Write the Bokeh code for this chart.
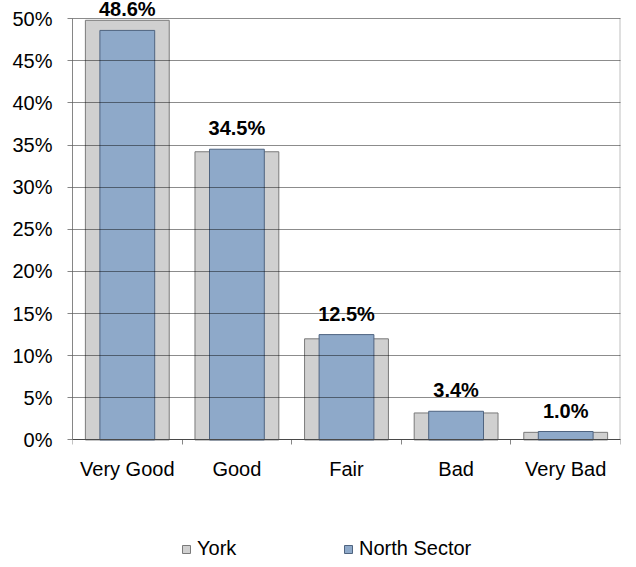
from bokeh.plotting import figure
from bokeh.models import Range1d, FixedTicker, PrintfTickFormatter, ColumnDataSource
from bokeh.embed import file_html
from bokeh.resources import INLINE
from bokeh.core.properties import value

categories = ["Very Good", "Good", "Fair", "Bad", "Very Bad"]
york = [49.8, 34.2, 12.0, 3.2, 0.9]
north_sector = [48.6, 34.5, 12.5, 3.4, 1.0]
value_labels = ["48.6%", "34.5%", "12.5%", "3.4%", "1.0%"]
y_ticks = [0, 5, 10, 15, 20, 25, 30, 35, 40, 45, 50]
series_names = ["York", "North Sector"]

FONT = "Liberation Sans"
AXIS_GREY = "#868686"

x_centers = [i + 0.5 for i in range(len(categories))]
x_bounds = list(range(len(categories) + 1))

src = ColumnDataSource(dict(x=x_centers, york=york, north=north_sector, lab=value_labels))

p = figure(width=636, height=567, output_backend="svg", toolbar_location=None,
           x_range=Range1d(0, len(categories)), y_range=Range1d(-15.14, 52.15),
           min_border_left=72, min_border_right=16, min_border_top=0, min_border_bottom=0)
p.outline_line_color = None
p.background_fill_color = "white"

p.vbar(x="x", top="york", width=0.765, source=src, fill_color="#D0D0D0",
       line_color="#7A7A7A", line_width=1, legend_label=series_names[0])
p.vbar(x="x", top="north", width=0.5, source=src, fill_color="#8EA9C9",
       line_color="#4F6480", line_width=1, legend_label=series_names[1])

p.text(x="x", y="north", text="lab", source=src, y_offset=-21,
       text_align="center", text_baseline="middle",
       text_font=value(FONT), text_font_style="bold", text_font_size="20px",
       text_color="black")

# right border of plot area
p.segment(x0=[x_bounds[-1]], x1=[x_bounds[-1]], y0=[y_ticks[0]], y1=[y_ticks[-1]],
          line_color="#BFBFBF", line_width=2)

p.xgrid.visible = False
p.ygrid.ticker = FixedTicker(ticks=y_ticks)
p.ygrid.grid_line_color = "black"
p.ygrid.grid_line_alpha = 0.45
p.ygrid.grid_line_width = 1
p.ygrid.level = "overlay"

ya = p.yaxis[0]
ya.ticker = FixedTicker(ticks=y_ticks)
ya.formatter = PrintfTickFormatter(format="%d%%")
ya.bounds = (y_ticks[0], y_ticks[-1])
ya.axis_line_color = AXIS_GREY
ya.major_tick_line_color = AXIS_GREY
ya.major_tick_out = 5
ya.major_tick_in = 0
ya.minor_tick_line_color = None
ya.major_label_standoff = 15
ya.major_label_text_font = FONT
ya.major_label_text_font_size = "20px"
ya.major_label_text_color = "black"

xa = p.xaxis[0]
xa.fixed_location = 0
xa.ticker = FixedTicker(ticks=x_centers, minor_ticks=x_bounds)
xa.major_label_overrides = {xc: c for xc, c in zip(x_centers, categories)}
xa.axis_line_color = AXIS_GREY
xa.major_tick_line_color = None
xa.major_tick_out = 0
xa.major_tick_in = 0
xa.minor_tick_line_color = AXIS_GREY
xa.minor_tick_out = 5
xa.minor_tick_in = 0
xa.major_label_standoff = 13
xa.major_label_text_font = FONT
xa.major_label_text_font_size = "20px"
xa.major_label_text_color = "black"

lg = p.legend[0]
lg.orientation = "horizontal"
lg.location = (109, 7)
lg.glyph_width = 10
lg.glyph_height = 10
lg.label_standoff = 6
lg.label_width = 120
lg.spacing = 26
lg.padding = 0
lg.margin = 0
lg.border_line_color = None
lg.background_fill_alpha = 0
lg.label_text_font = FONT
lg.label_text_font_size = "20px"
lg.label_text_color = "black"

open("out.html", "w").write(file_html(p, INLINE))
